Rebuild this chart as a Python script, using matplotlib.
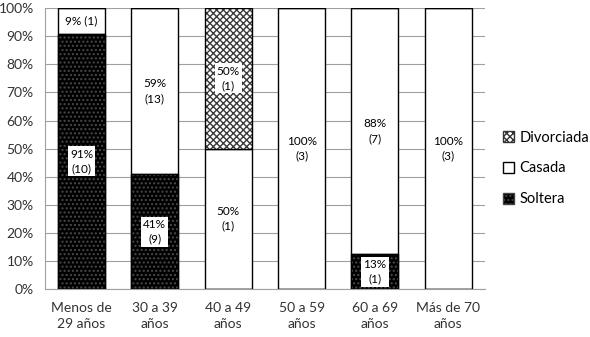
import matplotlib.pyplot as plt
import numpy as np
from matplotlib.patches import Patch

plt.rcParams['font.family'] = ['Lato', 'DejaVu Sans']

categories = ['Menos de\n29 años', '30 a 39\naños', '40 a 49\naños', '50 a 59\naños', '60 a 69\naños', 'Más de 70\naños']
soltera = [90.9, 40.9, 0, 0, 12.5, 0]
casada = [9.1, 59.1, 50, 100, 87.5, 100]
divorciada = [0, 0, 50, 0, 0, 0]
pct_soltera = [91, 41, 0, 0, 13, 0]
pct_casada = [9, 59, 50, 100, 88, 100]
pct_divorciada = [0, 0, 50, 0, 0, 0]
n_soltera = [10, 9, 0, 0, 1, 0]
n_casada = [1, 13, 1, 3, 7, 3]
n_divorciada = [0, 0, 1, 0, 0, 0]

fig = plt.figure(figsize=(5.9, 3.37), dpi=100)
ax = fig.add_axes([0.076, 0.142, 0.746, 0.834])
x = np.arange(len(categories))
w = 0.64

# soltera: black with white dots
ax.bar(x, soltera, w, color='black', edgecolor='black', linewidth=1, zorder=2)
ax.bar(x, soltera, w, fill=False, hatch='....', edgecolor='#4a4a4a', linewidth=0, zorder=3)
ax.bar(x, soltera, w, fill=False, edgecolor='black', linewidth=1, zorder=4)
# casada: white
ax.bar(x, casada, w, bottom=soltera, color='white', edgecolor='black', linewidth=1, zorder=2)
# divorciada: crosshatch
bot2 = np.array(soltera) + np.array(casada)
ax.bar(x, divorciada, w, bottom=bot2, color='white', hatch='xxxxx', edgecolor='#3a3a3a', linewidth=0, zorder=2)
ax.bar(x, divorciada, w, bottom=bot2, fill=False, edgecolor='black', linewidth=1, zorder=4)

box = dict(facecolor='white', edgecolor='none', pad=1.5)
fs = 8.5
for i in range(len(categories)):
    if soltera[i] > 0:
        ax.text(x[i], soltera[i] / 2, '%d%%\n(%d)' % (pct_soltera[i], n_soltera[i]),
                ha='center', va='center', fontsize=fs, bbox=box, zorder=5, linespacing=1.4)
    if casada[i] > 0:
        lab = '%d%%\n(%d)' % (pct_casada[i], n_casada[i])
        if casada[i] < 15:
            lab = '%d%% (%d)' % (pct_casada[i], n_casada[i])
        ax.text(x[i], soltera[i] + casada[i] / 2, lab,
                ha='center', va='center', fontsize=fs, zorder=5, linespacing=1.4)
    if divorciada[i] > 0:
        ax.text(x[i], bot2[i] + divorciada[i] / 2, '%d%%\n(%d)' % (pct_divorciada[i], n_divorciada[i]),
                ha='center', va='center', fontsize=fs, bbox=box, zorder=5, linespacing=1.4)

ax.set_xlim(-0.5, len(categories) - 0.5)
ax.set_ylim(0, 100)
ax.set_yticks(np.arange(0, 101, 10))
ax.set_yticklabels(['%d%%' % v for v in range(0, 101, 10)], fontsize=10, color='#333333')
ax.set_xticks(x)
ax.set_xticklabels(categories, fontsize=10, color='#333333', linespacing=1.4)
ax.tick_params(axis='x', length=0, pad=9)
ax.tick_params(axis='y', length=0, pad=8)
ax.yaxis.grid(True, color='#a0a0a0', linewidth=0.8, zorder=0)
ax.set_axisbelow(True)
for s in ['top', 'right']:
    ax.spines[s].set_visible(False)
ax.spines['left'].set_color('#a0a0a0')
ax.spines['bottom'].set_color('#a0a0a0')

handles = [Patch(facecolor='white', hatch='xxxxx', edgecolor='#333333', label='Divorciada'),
           Patch(facecolor='white', edgecolor='black', label='Casada'),
           Patch(facecolor='black', hatch='....', edgecolor='#444444', label='Soltera')]
fig.legend(handles=handles, loc='center left', bbox_to_anchor=(0.852, 0.5), frameon=False,
           fontsize=10.5, handlelength=0.8, handleheight=0.8, handletextpad=0.35,
           labelspacing=1.15, borderpad=0, borderaxespad=0)

fig.savefig('out.png', dpi=100)
